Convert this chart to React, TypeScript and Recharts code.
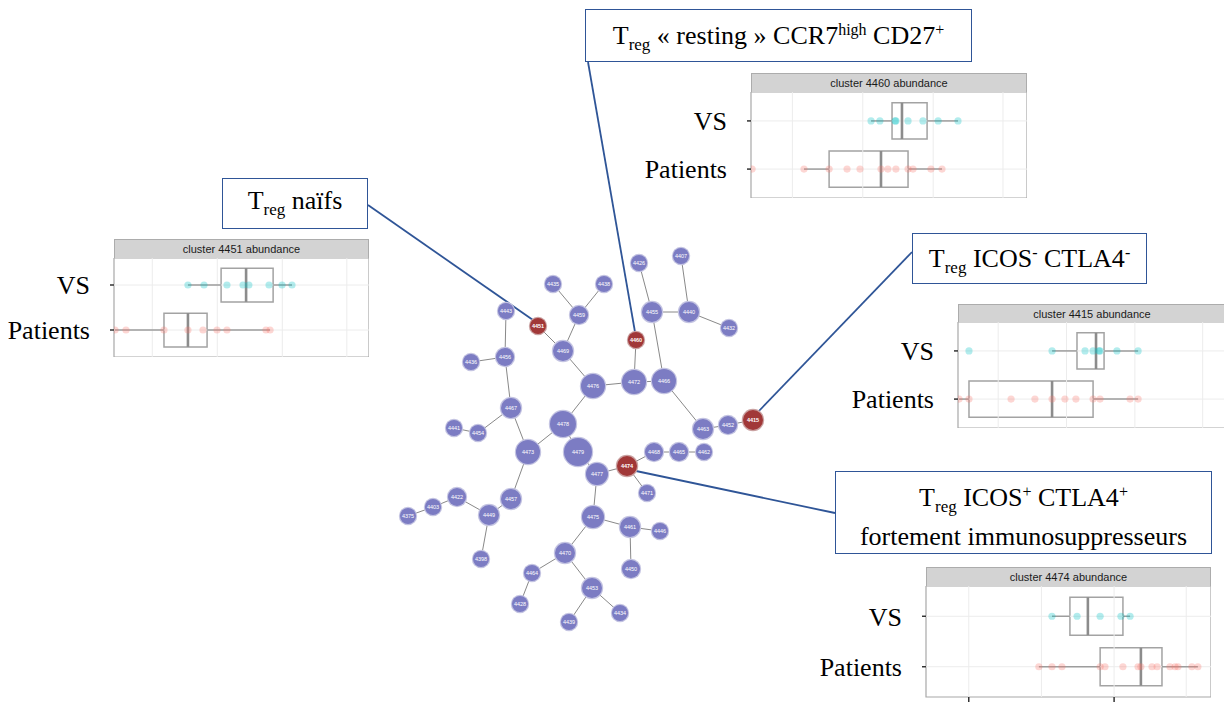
import React from "react";
import { ScatterChart, Scatter, XAxis, YAxis, ReferenceLine, ReferenceArea } from "recharts";

// SPADE tree: [cluster id, layout x, layout y, node size]
const NODES: [string, number, number, number][] = [
  ["4435", 553, 284, 8], ["4438", 604, 284, 8], ["4459", 579, 315, 9],
  ["4443", 506, 311, 8], ["4451", 538, 326, 8], ["4469", 563, 351, 10],
  ["4456", 505, 357, 9], ["4436", 471, 362, 8], ["4467", 511, 408, 10],
  ["4441", 454, 428, 8], ["4454", 478, 433, 8], ["4476", 593, 386, 12],
  ["4472", 634, 382, 12], ["4460", 636, 340, 8], ["4466", 664, 381, 12],
  ["4455", 652, 312, 10], ["4440", 689, 312, 10], ["4426", 639, 263, 8],
  ["4407", 681, 256, 8], ["4432", 729, 328, 8], ["4463", 703, 429, 10],
  ["4452", 728, 425, 9], ["4415", 753, 420, 10], ["4478", 563, 424, 13],
  ["4479", 578, 452, 14], ["4473", 528, 452, 12], ["4477", 597, 474, 11],
  ["4474", 627, 466, 10], ["4468", 654, 452, 9], ["4465", 679, 452, 9],
  ["4462", 704, 452, 8], ["4471", 647, 493, 8], ["4457", 511, 499, 10],
  ["4449", 489, 515, 10], ["4422", 457, 497, 9], ["4403", 433, 507, 8],
  ["4375", 408, 516, 8], ["4398", 481, 559, 8], ["4475", 593, 517, 11],
  ["4461", 630, 527, 10], ["4446", 660, 531, 8], ["4450", 631, 569, 9],
  ["4470", 565, 553, 10], ["4464", 532, 573, 8], ["4428", 520, 604, 8],
  ["4453", 592, 588, 10], ["4434", 620, 613, 8], ["4439", 569, 622, 8],
];

const HIGHLIGHTED = ["4451", "4460", "4415", "4474"];

const EDGES: [string, string][] = [
  ["4435", "4459"], ["4438", "4459"], ["4459", "4469"], ["4451", "4469"], ["4469", "4476"],
  ["4443", "4456"], ["4436", "4456"], ["4456", "4467"], ["4467", "4454"], ["4454", "4441"],
  ["4467", "4473"], ["4476", "4472"], ["4472", "4460"], ["4472", "4466"], ["4466", "4455"],
  ["4455", "4426"], ["4455", "4440"], ["4440", "4407"], ["4440", "4432"], ["4466", "4463"],
  ["4463", "4452"], ["4452", "4415"], ["4476", "4478"], ["4478", "4473"], ["4478", "4479"],
  ["4479", "4477"], ["4477", "4474"], ["4474", "4468"], ["4468", "4465"], ["4465", "4462"],
  ["4474", "4471"], ["4473", "4457"], ["4457", "4449"], ["4449", "4422"], ["4422", "4403"],
  ["4403", "4375"], ["4449", "4398"], ["4477", "4475"], ["4475", "4461"], ["4461", "4446"],
  ["4461", "4450"], ["4475", "4470"], ["4470", "4464"], ["4464", "4428"], ["4470", "4453"],
  ["4453", "4434"], ["4453", "4439"],
];

// abundance panels, x in % of panel range
const GRID = [15, 40.5, 66, 91.3];
const MAJOR_TICKS = [15, 66];

// box stats: [whisker low, q1, median, q3, whisker high]
const C4451_VS = [29.0, 35.3, 44.3, 50.6, 52.9, 60.8, 65.9, 69.8];
const C4451_PT = [0.4, 4.7, 19.6, 29.0, 34.9, 40.4, 44.3, 59.6, 61.2];
const C4451_VS_BOX = [29.0, 42.0, 51.8, 62.4, 69.8];
const C4451_PT_BOX = [0.4, 19.6, 29.0, 36.5, 61.2];

const C4460_VS = [43.5, 46.7, 52.2, 52.5, 56.9, 62.3, 67.8, 75.0];
const C4460_PT = [0.4, 19.2, 28.3, 34.8, 39.5, 47.1, 49.6, 52.5, 56.9, 58.7, 65.2, 69.2];
const C4460_VS_BOX = [43.5, 51.1, 54.7, 63.8, 75.0];
const C4460_PT_BOX = [19.2, 28.3, 47.1, 56.9, 69.2];

const C4415_VS = [4.1, 35.1, 47.4, 50.4, 52.6, 53.0, 59.3, 67.2];
const C4415_PT = [0.4, 4.1, 19.8, 28.7, 35.1, 39.9, 44.0, 50.4, 53.0, 64.2, 67.2];
const C4415_VS_BOX = [35.1, 44.4, 51.5, 54.5, 67.2];
const C4415_PT_BOX = [0.4, 4.1, 35.1, 50.4, 67.2];

const C4474_VS = [44.2, 53.0, 61.1, 68.4, 71.6];
const C4474_PT = [39.6, 44.2, 47.7, 61.1, 62.8, 69.1, 74.4, 75.4, 79.3, 81.1, 85.6, 87.4, 88.4, 93.3, 95.4];
const C4474_VS_BOX = [44.2, 50.5, 56.8, 69.1, 71.6];
const C4474_PT_BOX = [39.6, 61.1, 75.4, 82.8, 95.4];

const SERIF = "'Liberation Serif', 'Times New Roman', serif";
const SANS = "'Liberation Sans', Arial, sans-serif";
const NAVY = "#2f5597";

const NodeShape = (props: any) => {
  const { cx, cy, payload } = props;
  const hi = HIGHLIGHTED.includes(payload.id);
  const r = payload.size;
  return (
    <g>
      <circle cx={cx} cy={cy} r={r + 1.2} fill={hi ? "#caa2a2" : "#c4c4e2"} />
      <circle cx={cx} cy={cy} r={r} fill={hi ? "#a13838" : "#7c7cc3"} />
      <text x={cx} y={cy} dy="0.35em" textAnchor="middle" fontSize={5.5} fill="#fff"
        fontFamily={SANS} fontWeight={hi ? 700 : 400}>
        {payload.id}
      </text>
    </g>
  );
};

type InsetProps = {
  title: string;
  vs: number[];
  pt: number[];
  vsBox: number[];
  ptBox: number[];
  left: number;
  panelLeft: number;
  panelRight: number;
  headerTop: number;
  panelTop: number;
  panelBottom: number;
  axisTicks?: boolean;
};

function BoxInset(p: InsetProps) {
  const w = p.panelRight - p.left;
  const ph = p.panelBottom - p.panelTop;
  const axisH = p.axisTicks ? 20 : 0;
  const half = 0.375;
  const rows = [
    { row: 2, s: p.vsBox },
    { row: 1, s: p.ptBox },
  ];
  const dot = (color: string) => (props: any) =>
    <circle cx={props.cx} cy={props.cy} r={3.6} fill={color} fillOpacity={0.3} />;

  return (
    <>
      <div
        style={{
          position: "absolute", left: p.panelLeft, top: p.headerTop,
          width: p.panelRight - p.panelLeft, height: p.panelTop - p.headerTop,
          boxSizing: "border-box", background: "#d3d3d3", border: "1px solid #acacac",
          borderBottom: "none", fontFamily: SANS, fontSize: 11, color: "#1a1a1a",
          display: "flex", alignItems: "center", justifyContent: "center",
        }}
      >
        {p.title}
      </div>
      <div style={{ position: "absolute", left: p.left, top: p.panelTop }}>
        <ScatterChart width={w} height={ph + axisH} margin={{ top: 0, right: 0, bottom: 0, left: 0 }}>
          <XAxis type="number" dataKey="x" domain={[0, 100]} allowDataOverflow ticks={MAJOR_TICKS}
            hide={!p.axisTicks} height={axisH} tickFormatter={() => ""} tickSize={6}
            tickLine={{ stroke: "#333", strokeWidth: 1.5 }} axisLine={false} />
          <YAxis type="number" dataKey="y" domain={[0.4, 2.6]} allowDataOverflow ticks={[1, 2]}
            interval={0} width={p.panelLeft - p.left}
            tickFormatter={(v: number) => (v === 2 ? "VS" : "Patients")}
            tick={{ fontSize: 26, fill: "#000", fontFamily: SERIF }}
            tickSize={4} tickMargin={20} tickLine={{ stroke: "#333", strokeWidth: 1.5 }}
            axisLine={false} />
          {GRID.map((g) => (
            <ReferenceLine key={"g" + g} x={g} stroke="#ececec" strokeWidth={1} />
          ))}
          <ReferenceLine y={1} stroke="#ececec" strokeWidth={1} />
          <ReferenceLine y={2} stroke="#ececec" strokeWidth={1} />
          <ReferenceArea x1={0} x2={100} y1={0.4} y2={2.6} fill="none" stroke="#a8a8a8"
            strokeWidth={1.2} ifOverflow="visible" />
          {rows.map(({ row, s }) => (
            <React.Fragment key={row}>
              <ReferenceLine segment={[{ x: s[0], y: row }, { x: s[1], y: row }]}
                stroke="#9d9d9d" strokeWidth={1.5} />
              <ReferenceLine segment={[{ x: s[3], y: row }, { x: s[4], y: row }]}
                stroke="#9d9d9d" strokeWidth={1.5} />
              <ReferenceArea x1={s[1]} x2={s[3]} y1={row - half} y2={row + half}
                fill="#fff" fillOpacity={0} stroke="#a3a3a3" strokeWidth={1.5} />
              <ReferenceLine segment={[{ x: s[2], y: row - half }, { x: s[2], y: row + half }]}
                stroke="#8c8c8c" strokeWidth={2.6} />
            </React.Fragment>
          ))}
          <Scatter data={p.vs.map((x) => ({ x, y: 2 }))} shape={dot("#00BFC4")} isAnimationActive={false} />
          <Scatter data={p.pt.map((x) => ({ x, y: 1 }))} shape={dot("#F8766D")} isAnimationActive={false} />
        </ScatterChart>
      </div>
    </>
  );
}

const Sub = ({ children }: { children: React.ReactNode }) => (
  <span style={{ fontSize: 17, verticalAlign: "-6px" }}>{children}</span>
);
const Sup = ({ children }: { children: React.ReactNode }) => (
  <span style={{ fontSize: 16, verticalAlign: "9px" }}>{children}</span>
);

const calloutStyle = (left: number, top: number, width: number, height: number): React.CSSProperties => ({
  position: "absolute", left, top, width, height, boxSizing: "border-box",
  border: `1.6px solid ${NAVY}`, background: "#fff", fontFamily: SERIF, fontSize: 26,
  color: "#000", display: "flex", flexDirection: "column", alignItems: "center",
  justifyContent: "center", lineHeight: "30px", whiteSpace: "nowrap", paddingTop: 4,
});

export default function App() {
  const byId: Record<string, { x: number; y: number }> = {};
  const nodeData = NODES.map(([id, x, y, size]) => {
    byId[id] = { x, y };
    return { id, x, y, size };
  });

  return (
    <div style={{ position: "fixed", left: 0, top: 0, width: 1224, height: 702, overflow: "hidden", background: "#fff" }}>
      <div style={{ position: "absolute", left: 0, top: 0 }}>
        <ScatterChart width={1224} height={702} margin={{ top: 0, right: 0, bottom: 0, left: 0 }}>
          <XAxis type="number" dataKey="x" domain={[0, 1224]} hide allowDataOverflow />
          <YAxis type="number" dataKey="y" domain={[0, 702]} reversed hide allowDataOverflow />
          {EDGES.map(([a, b]) => (
            <ReferenceLine key={a + b} segment={[byId[a], byId[b]]} stroke="#7a7a7a" strokeWidth={0.9} />
          ))}
          {/* leader lines from callouts to highlighted clusters */}
          <ReferenceLine segment={[{ x: 368, y: 205 }, { x: 533, y: 320 }]} stroke={NAVY} strokeWidth={1.8} ifOverflow="visible" />
          <ReferenceLine segment={[{ x: 588, y: 62 }, { x: 635, y: 332 }]} stroke={NAVY} strokeWidth={1.8} ifOverflow="visible" />
          <ReferenceLine segment={[{ x: 912, y: 252 }, { x: 757, y: 413 }]} stroke={NAVY} strokeWidth={1.8} ifOverflow="visible" />
          <ReferenceLine segment={[{ x: 835, y: 513 }, { x: 636, y: 471 }]} stroke={NAVY} strokeWidth={1.8} ifOverflow="visible" />
          <Scatter data={nodeData} shape={NodeShape} isAnimationActive={false} />
        </ScatterChart>
      </div>

      <BoxInset title="cluster 4451 abundance" vs={C4451_VS} pt={C4451_PT} vsBox={C4451_VS_BOX} ptBox={C4451_PT_BOX}
        left={0} panelLeft={114} panelRight={369} headerTop={239} panelTop={258} panelBottom={357} />
      <BoxInset title="cluster 4460 abundance" vs={C4460_VS} pt={C4460_PT} vsBox={C4460_VS_BOX} ptBox={C4460_PT_BOX}
        left={630} panelLeft={751} panelRight={1027} headerTop={73} panelTop={92} panelBottom={198} />
      <BoxInset title="cluster 4415 abundance" vs={C4415_VS} pt={C4415_PT} vsBox={C4415_VS_BOX} ptBox={C4415_PT_BOX}
        left={840} panelLeft={958} panelRight={1226} headerTop={304} panelTop={322} panelBottom={428} />
      <BoxInset title="cluster 4474 abundance" vs={C4474_VS} pt={C4474_PT} vsBox={C4474_VS_BOX} ptBox={C4474_PT_BOX}
        left={800} panelLeft={926} panelRight={1211} headerTop={567} panelTop={586} panelBottom={697} axisTicks />

      <div style={calloutStyle(222, 178, 146, 51)}>
        <div>T<Sub>reg</Sub> naïfs</div>
      </div>
      <div style={calloutStyle(585, 9, 387, 53)}>
        <div>T<Sub>reg</Sub> « resting » CCR7<Sup>high</Sup> CD27<Sup>+</Sup></div>
      </div>
      <div style={calloutStyle(912, 233, 235, 51)}>
        <div>T<Sub>reg</Sub> ICOS<Sup>-</Sup> CTLA4<Sup>-</Sup></div>
      </div>
      <div style={calloutStyle(835, 471, 377, 83)}>
        <div>T<Sub>reg</Sub> ICOS<Sup>+</Sup> CTLA4<Sup>+</Sup></div>
        <div>fortement immunosuppresseurs</div>
      </div>
    </div>
  );
}
